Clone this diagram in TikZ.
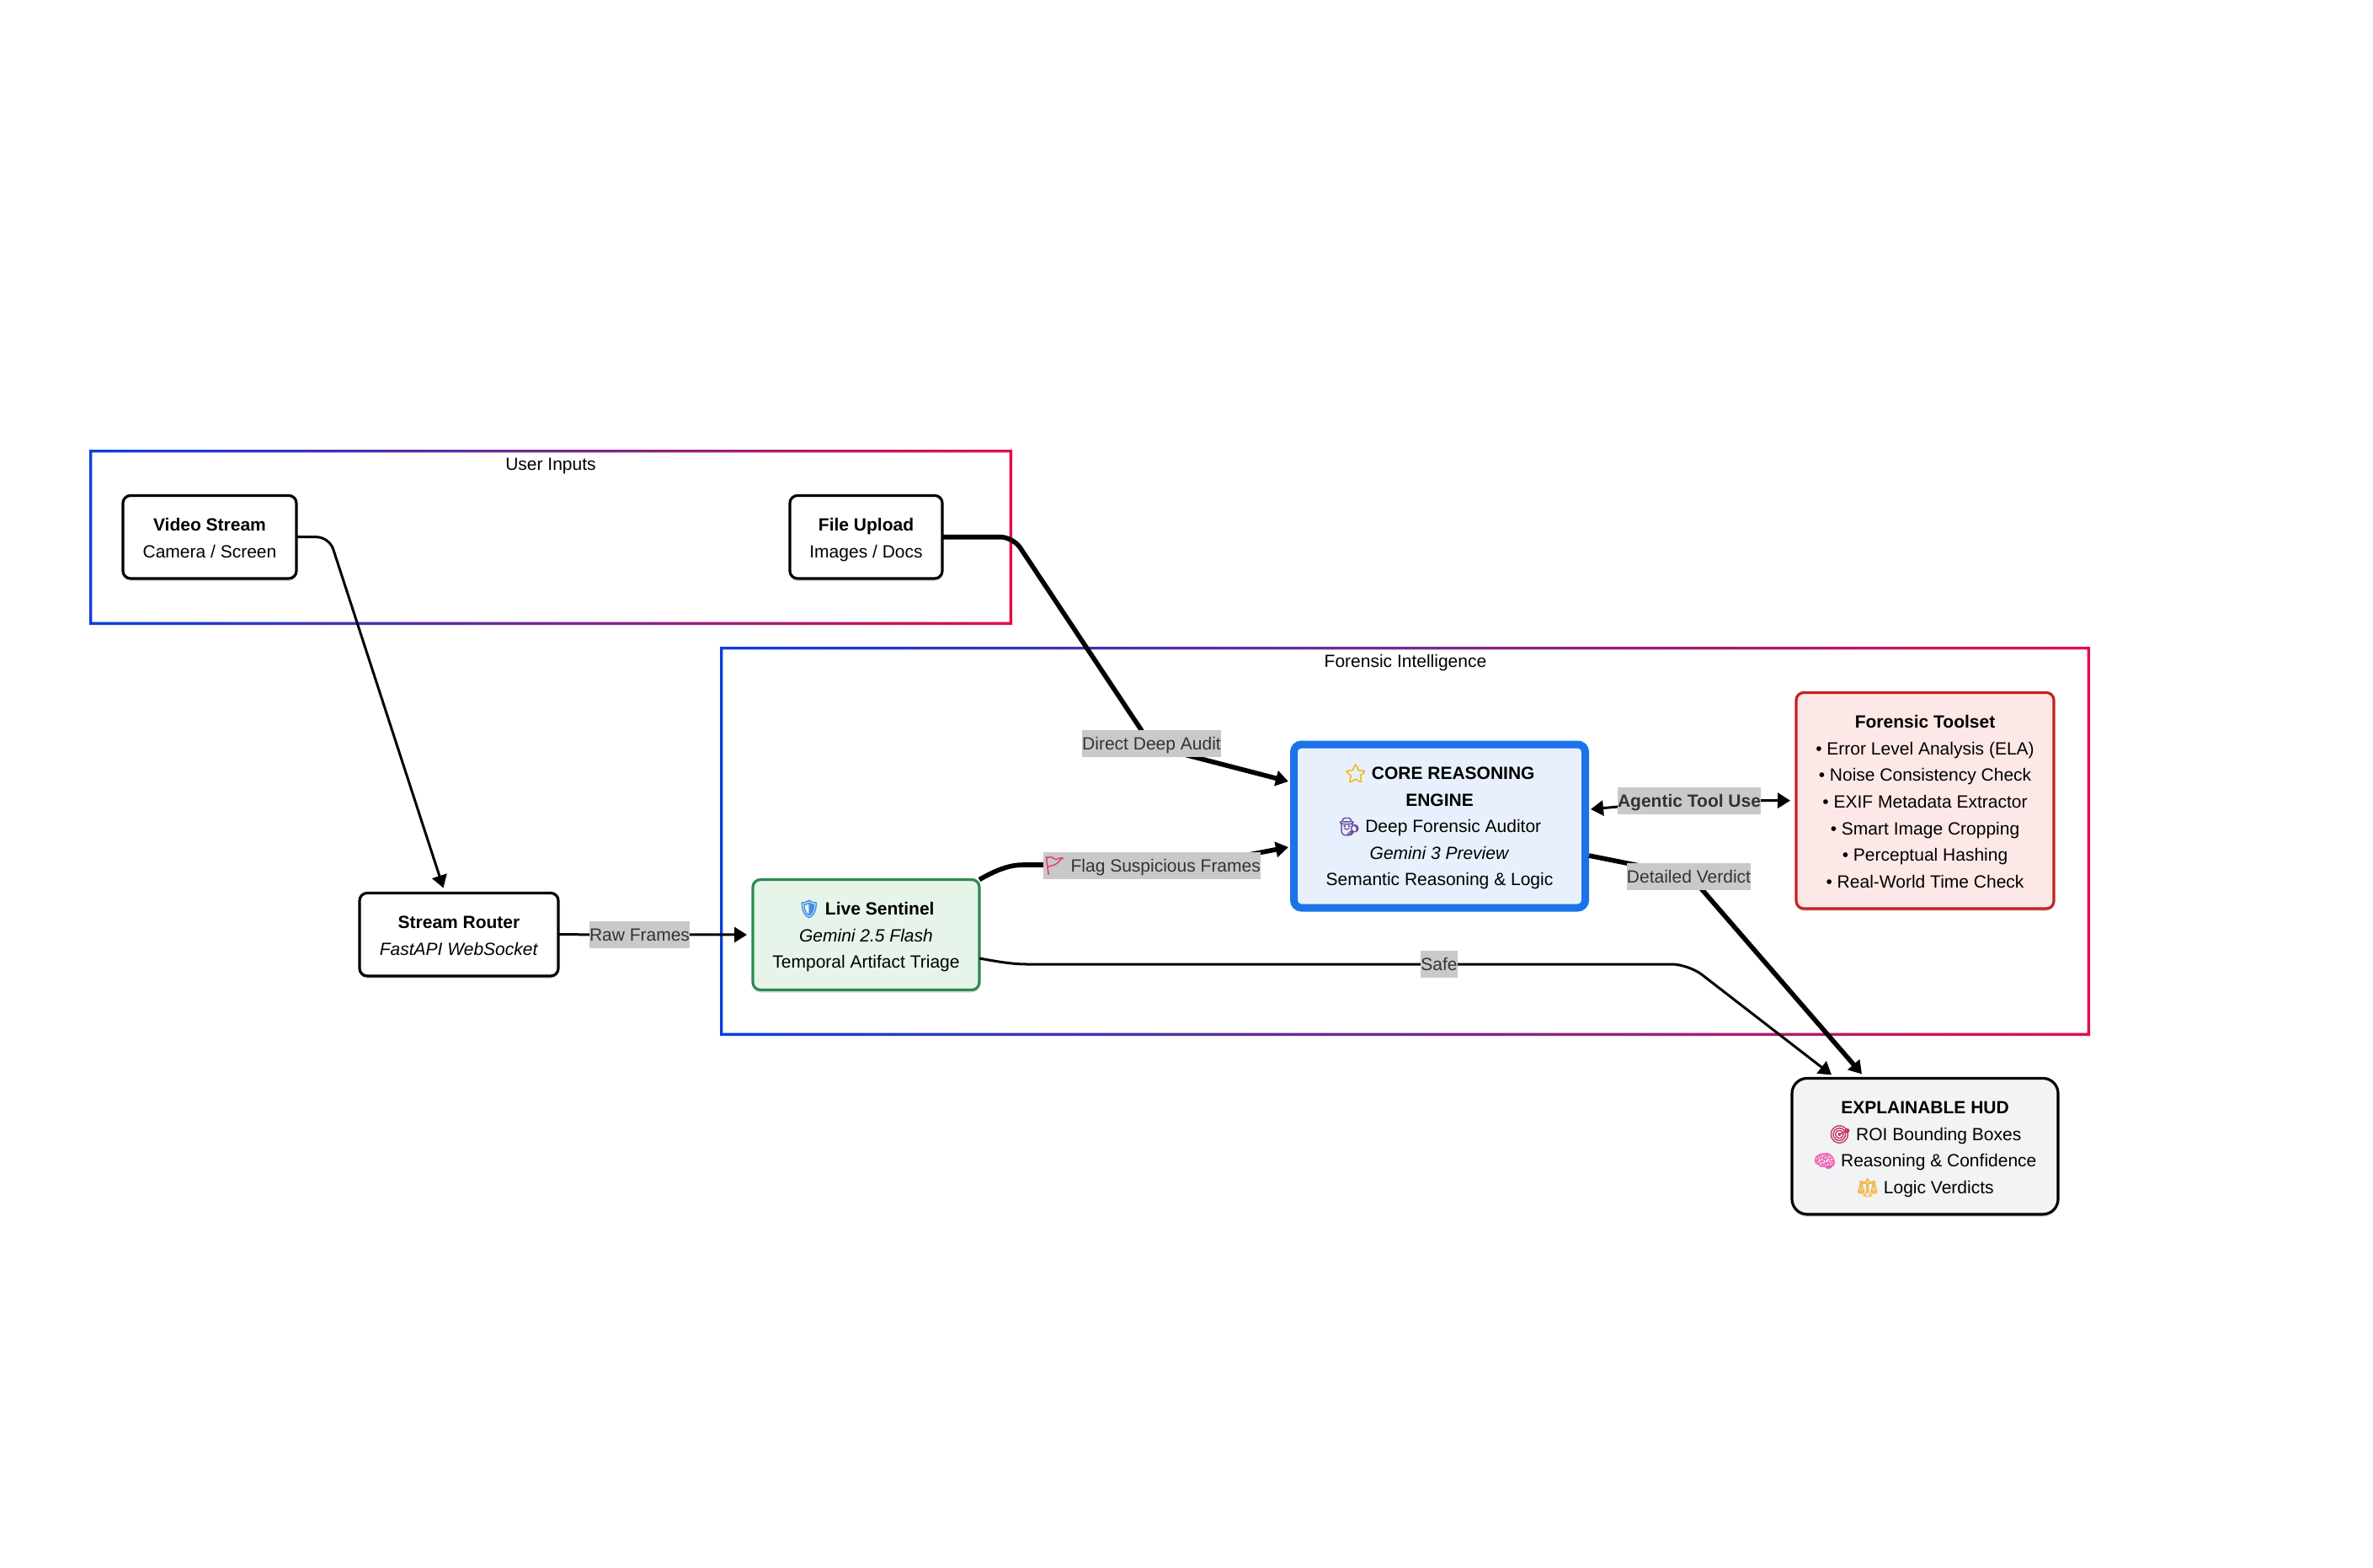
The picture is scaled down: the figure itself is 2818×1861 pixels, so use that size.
\documentclass[tikz,border=0pt]{standalone}
\usepackage{fontspec}
\setmainfont{Liberation Sans}
\newfontfamily\emojifont[FakeBold=2.5]{Noto Emoji}
\usetikzlibrary{arrows.meta,shadows}
\definecolor{groupblue}{HTML}{0B3FD9}
\definecolor{groupred}{HTML}{E0104A}
\definecolor{coreblue}{HTML}{1A73E8}
\definecolor{corefill}{HTML}{E8F0FE}
\definecolor{sentinelgreen}{HTML}{2E8B4F}
\definecolor{sentinelfill}{HTML}{E6F4EA}
\definecolor{toolred}{HTML}{C5221F}
\definecolor{toolfill}{HTML}{FCE8E6}
\definecolor{hudfill}{HTML}{F1F3F4}
\definecolor{labelgrey}{HTML}{C9C9C9}
\definecolor{labeltext}{HTML}{333333}
\newcommand{\emoji}[2]{\textcolor[HTML]{#1}{{\emojifont #2}}}
\newcommand{\toprow}[1]{\rule{0pt}{#1pt}}
\begin{document}
\begin{tikzpicture}[
x=1pt, y=-1pt,
every node/.style={font=\fontsize{21}{31.6}\selectfont, align=center, inner sep=0pt, outer sep=0pt,
    execute at begin node={\rule{0pt}{20pt}}, execute at end node={\rule[-5pt]{0pt}{0pt}}},
box/.style={draw=black, fill=white, line width=3.2pt, rounded corners=9pt,
    drop shadow={shadow xshift=0pt, shadow yshift=-3pt, opacity=.15, fill=black}},
groupframe/.style={left color=groupblue, right color=groupred, even odd rule},
edgelabel/.style={fill=labelgrey, text=labeltext, minimum height=32pt},
link/.style={draw=black, line width=3pt, rounded corners=15pt, -{Triangle[length=15pt,width=18pt]}},
thicklink/.style={link, line width=5.6pt}
]
\useasboundingbox (0,0) rectangle (2818,1861);

\shade[groupframe] (106,534) rectangle (1202,742) (109.4,537.4) rectangle (1198.6,738.6);
\shade[groupframe] (855,768) rectangle (2482,1230) (858.4,771.4) rectangle (2478.6,1226.6);
\node (usertitle) at (654,551) {User Inputs};
\node (forensictitle) at (1669,785) {Forensic Intelligence};

\node (videostream) [box, minimum width=206pt, minimum height=98.5pt] at (249,637.7)
    {\toprow{22.5}\textbf{Video Stream}\\Camera / Screen};
\node (fileupload) [box, minimum width=181pt, minimum height=98.5pt] at (1028.5,637.7)
    {\toprow{22.5}\textbf{File Upload}\\Images / Docs};
\node (streamrouter) [box, minimum width=236pt, minimum height=98.5pt] at (545,1109.7)
    {\toprow{22.5}\textbf{Stream Router}\\\textit{FastAPI WebSocket}};
\node (livesentinel) [box, draw=sentinelgreen, fill=sentinelfill, minimum width=269pt, minimum height=131pt] at (1028.5,1110)
    {\toprow{21.5}\emoji{3E8EE8}{🛡} \textbf{Live Sentinel}\\\textit{Gemini 2.5 Flash}\\Temporal Artifact Triage};
\node (coreengine) [box, draw=coreblue, fill=corefill, line width=9pt, minimum width=346pt, minimum height=194pt] at (1709.5,981)
    {\toprow{20.5}\emoji{F4B400}{⭐} \textbf{CORE REASONING}\\\textbf{ENGINE}\\\emoji{6A4C9C}{🕵} Deep Forensic Auditor\\\textit{Gemini 3 Preview}\\Semantic Reasoning \& Logic};
\node (toolset) [box, draw=toolred, fill=toolfill, minimum width=306pt, minimum height=256.5pt] at (2286,950.7)
    {\toprow{22.5}\textbf{Forensic Toolset}\\• Error Level Analysis (ELA)\\• Noise Consistency Check\\• EXIF Metadata Extractor\\• Smart Image Cropping\\• Perceptual Hashing\\• Real-World Time Check};
\node (hud) [box, fill=hudfill, rounded corners=18pt, minimum width=316pt, minimum height=161.5pt] at (2286,1361.2)
    {\toprow{22.5}\textbf{EXPLAINABLE HUD}\\\emoji{C83C64}{🎯} ROI Bounding Boxes\\\emoji{EE5FB0}{🧠} Reasoning \& Confidence\\\emoji{F3B94D}{⚖} Logic Verdicts};

\draw[link] (videostream.east) -- (391,637.7) -- ([shift={(-18.5,-6)}]streamrouter.north);
\draw[link] (streamrouter.east) -- ([xshift=-7pt]livesentinel.west);
\draw[thicklink] (fileupload.east) -- (1203,637.7) -- (1368,886) -- ([shift={(-6.5,-53)}]coreengine.west);
\draw[thicklink] (livesentinel.north east) .. controls (1185,1032) and (1200,1027) .. (1230,1027) -- (1420,1027) -- ([shift={(-6.5,25)}]coreengine.west);
\draw[link, {Triangle[length=15pt,width=18pt]}-{Triangle[length=15pt,width=18pt]}] ([shift={(6.5,-20)}]coreengine.east) -- (2006,950) -- ([xshift=-7pt]toolset.west);
\draw[thicklink] ([shift={(4.5,35)}]coreengine.east) -- (2007,1040) -- ([shift={(-75,-5)}]hud.north);
\draw[link, rounded corners=20pt] ([shift={(0,28)}]livesentinel.east) .. controls (1180,1141) and (1200,1145) .. (1240,1145) -- (2005,1145) -- ([shift={(-111,-4)}]hud.north);

\node (rawlabel) [edgelabel] at (759.5,1110) {Raw Frames};
\node (auditlabel) [edgelabel] at (1367.5,883) {Direct Deep Audit};
\node (flaglabel) [edgelabel] at (1368,1027.5) {\emoji{EE3B6E}{🚩} Flag Suspicious Frames};
\node (toollabel) [edgelabel] at (2006,950.5) {\textbf{Agentic Tool Use}};
\node (verdictlabel) [edgelabel] at (2005.5,1041) {Detailed Verdict};
\node (safelabel) [edgelabel] at (1709,1145) {Safe};
\end{tikzpicture}
\end{document}
